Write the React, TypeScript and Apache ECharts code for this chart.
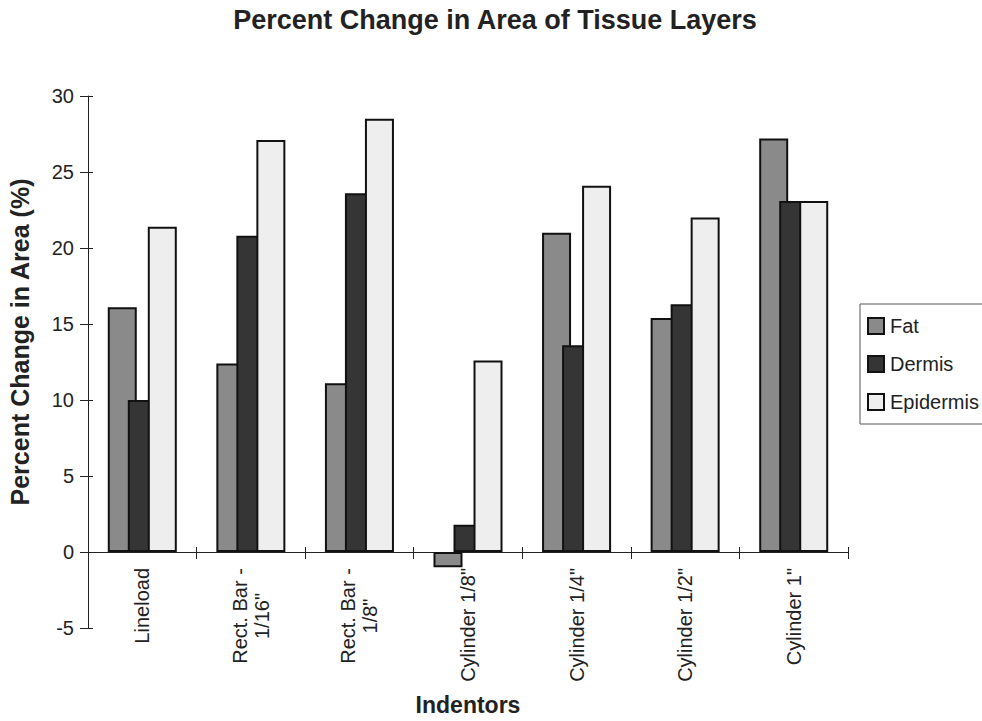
import React, { useEffect, useRef } from "react";
import * as echarts from "echarts";

const categories = ["Lineload", "Rect. Bar -\n1/16\"", "Rect. Bar -\n1/8\"", "Cylinder 1/8\"", "Cylinder 1/4\"", "Cylinder 1/2\"", "Cylinder 1\""];
const fat = [16.1, 12.4, 11.1, -1.0, 21.0, 15.4, 27.2];
const dermis = [10.0, 20.8, 23.6, 1.8, 13.6, 16.3, 23.1];
const epidermis = [21.4, 27.1, 28.5, 12.6, 24.1, 22.0, 23.1];
const seriesNames = ["Fat", "Dermis", "Epidermis"];
const colors = ["#8a8a8a", "#353535", "#eeeeee"];

const FONT = "'Liberation Sans', Arial, Helvetica, sans-serif";
const INK = "#222";

export default function App() {
  const ref = useRef<HTMLDivElement>(null);
  useEffect(() => {
    if (!ref.current) return;
    const chart = echarts.init(ref.current, null, { renderer: "svg" });
    const data = [fat, dermis, epidermis];
    const catData = categories.map((c) =>
      c.includes("\n")
        ? { value: c, textStyle: { align: "center", padding: [0, 96, 0, 0] } }
        : { value: c }
    );
    chart.setOption({
      animation: false,
      backgroundColor: "#ffffff",
      textStyle: { fontFamily: FONT },
      title: {
        text: "Percent Change in Area of Tissue Layers",
        left: 490,
        textAlign: "center",
        top: 1,
        textStyle: { fontFamily: FONT, fontSize: 27, fontWeight: "bold", color: INK },
      },
      legend: {
        orient: "vertical",
        left: 860,
        top: 304,
        itemWidth: 16,
        itemHeight: 16,
        itemGap: 18,
        padding: [12, 30, 12, 7],
        borderColor: "#555",
        borderWidth: 1,
        icon: "rect",
        textStyle: { fontFamily: FONT, fontSize: 20, color: INK, padding: [0, 0, 0, 1] },
        data: seriesNames,
      },
      graphic: [
        {
          type: "text",
          x: 20,
          y: 342,
          rotation: Math.PI / 2,
          style: {
            text: "Percent Change in Area (%)",
            fontFamily: FONT,
            fontSize: 25,
            fontWeight: "bold",
            fill: INK,
            align: "center",
            verticalAlign: "middle",
          },
        },
      ],
      grid: { left: 88, right: 134, top: 96, bottom: 93, outerBoundsMode: "none", containLabel: false },
      xAxis: [
        {
          type: "category",
          data: catData,
          name: "Indentors",
          nameLocation: "middle",
          nameGap: 65,
          nameMoveOverlap: false,
          nameTextStyle: { fontFamily: FONT, fontSize: 23, fontWeight: "bold", color: INK },
          axisLine: { onZero: true, onZeroAxisIndex: 0, lineStyle: { color: INK, width: 1 } },
          axisTick: { show: true, length: 7, lineStyle: { color: INK } },
          axisLabel: {
            rotate: 90,
            margin: -60,
            fontFamily: FONT,
            fontSize: 20,
            color: INK,
            lineHeight: 22,
          },
        },
        {
          type: "category",
          data: categories,
          position: "bottom",
          axisLine: { show: false, onZero: true, onZeroAxisIndex: 0 },
          axisTick: { show: true, inside: true, length: 5, lineStyle: { color: INK } },
          axisLabel: { show: false },
        },
      ],
      yAxis: [
        {
          type: "value",
          min: -5,
          max: 30,
          interval: 5,
          axisLine: { show: true, lineStyle: { color: INK, width: 1 } },
          axisTick: { show: true, length: 8, lineStyle: { color: INK } },
          axisLabel: { margin: 14, fontFamily: FONT, fontSize: 20, color: INK },
          splitLine: { show: false },
        },
        {
          type: "value",
          min: -5,
          max: 30,
          interval: 5,
          position: "left",
          axisLine: { show: false },
          axisTick: { show: true, inside: true, length: 5, lineStyle: { color: INK } },
          axisLabel: { show: false },
          splitLine: { show: false },
        },
      ],
      series: data.map((d, i) => ({
        name: seriesNames[i],
        type: "bar",
        data: d,
        xAxisIndex: 0,
        yAxisIndex: 0,
        barWidth: 29,
        barGap: "-31%",
        barCategoryGap: "36%",
        itemStyle: { color: colors[i], borderColor: "#111", borderWidth: 2 },
      })),
    });
    return () => chart.dispose();
  }, []);
  return <div ref={ref} style={{ width: 982, height: 721, position: "absolute", left: 0, top: 0 }} />;
}
